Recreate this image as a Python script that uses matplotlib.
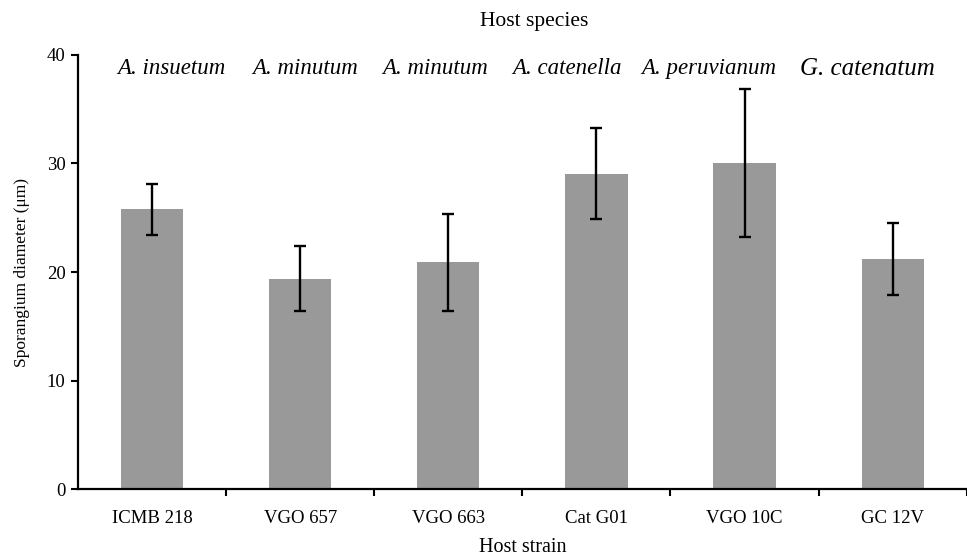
import matplotlib
matplotlib.use("Agg")
import matplotlib.pyplot as plt

strains = ["ICMB 218", "VGO 657", "VGO 663", "Cat G01", "VGO 10C", "GC 12V"]
species = ["A. insuetum", "A. minutum", "A. minutum", "A. catenella", "A. peruvianum", "G. catenatum"]
diam = [25.8, 19.4, 20.9, 29.05, 30.05, 21.2]
sd = [2.35, 3.0, 4.45, 4.2, 6.8, 3.35]

# where the species names sit relative to each bar
sp_shift = [0.13, 0.03, -0.09, -0.2, -0.24, -0.17]
sp_size = [16.5, 16.5, 16.5, 16.5, 16.5, 18]

plt.rcParams['font.family'] = ['Liberation Serif', 'DejaVu Serif']

fig = plt.figure(figsize=(9.67, 5.57), dpi=100)
ax = fig.add_axes([0.0807, 0.1212, 0.919, 0.7806])

x = list(range(len(strains)))
ax.bar(x, diam, width=0.42, color='#999999')
ax.errorbar(x, diam, yerr=sd, fmt='none', ecolor='black', elinewidth=1.7,
            capsize=4.5, capthick=1.7)

ax.set_xlim(-0.5, 5.474)
ax.set_ylim(0, 40)
ax.set_yticks([0, 10, 20, 30, 40])
ax.set_xticks(x)
ax.set_xticklabels(strains, fontsize=13.5)
ax.set_xticks([i + 0.5 for i in range(len(strains))], minor=True)
ax.tick_params(axis='x', which='major', length=0, pad=15)
ax.tick_params(axis='x', which='minor', length=5, width=1.5, direction='out')
ax.tick_params(axis='y', length=5, width=1.5, labelsize=13.5, pad=4)

for s in ['top', 'right']:
    ax.spines[s].set_visible(False)
for s in ['left', 'bottom']:
    ax.spines[s].set_linewidth(1.6)

ax.set_ylabel("Sporangium diameter (μm)", fontsize=12.5, labelpad=12)
ax.set_xlabel("Host strain", fontsize=14.5, labelpad=8)

for i, name in enumerate(species):
    ax.text(i + sp_shift[i], 38.7, name, style='italic', fontsize=sp_size[i],
            ha='center', va='center', clip_on=False)

fig.text(0.552, 0.962, "Host species", fontsize=15.5, ha='center', va='center')

fig.savefig("out.png", dpi=100)
